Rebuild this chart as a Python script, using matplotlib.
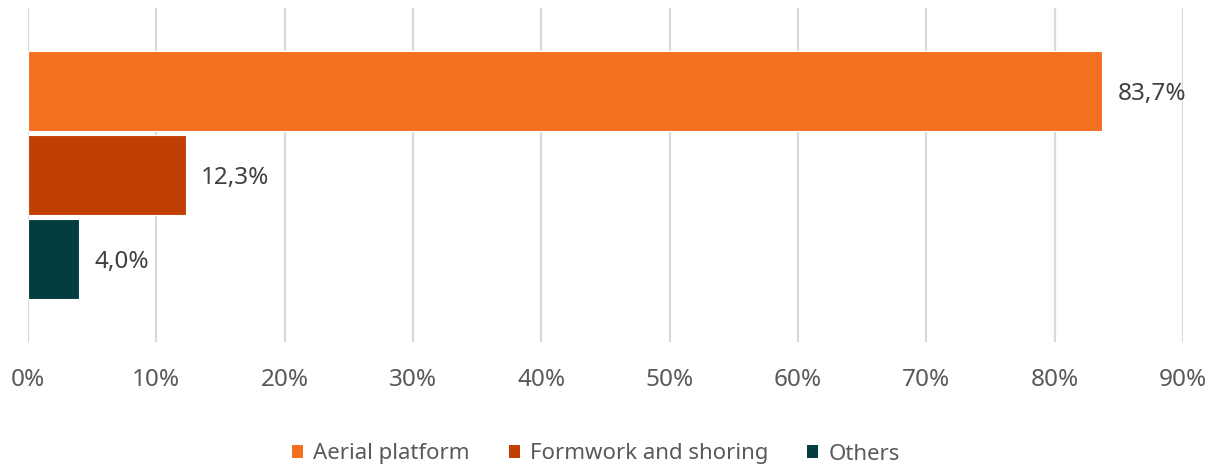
import numpy as np
import matplotlib.pyplot as plt
from matplotlib.patches import Patch
from matplotlib.ticker import FuncFormatter

plt.rcParams['font.family'] = ['Noto Sans', 'DejaVu Sans']

# data
series = ['Aerial platform', 'Formwork and shoring', 'Others']
values = [83.7, 12.3, 4.0]
colors = ['#f37021', '#c23f04', '#033d3f']
xticks = np.arange(0, 91, 10)

W, H = 1218, 468
fig = plt.figure(figsize=(W/100, H/100), dpi=100)
ax = fig.add_axes([28/W, 1-342/H, (1183-28)/W, (342-8)/H])

# y in pixel-like units of the plot area (0 at top, 334 at bottom)
ax.set_ylim(334, 0)
ax.set_xlim(0, 90)

center = 167
step = 84
bh = 80
for i, (s, v, c) in enumerate(zip(series, values, colors)):
    yc = center + (i-1)*step
    ax.barh(yc, v, height=bh, color=c, edgecolor='white', linewidth=0.8, zorder=3)
    ax.text(v + 1.2, yc + 3, ('%.1f%%' % v).replace('.', ','), va='center', ha='left',
            fontsize=17.5, color='#404040', zorder=4)

ax.set_xticks(xticks)
ax.xaxis.set_major_formatter(FuncFormatter(lambda x, p: '%d%%' % x))
ax.set_yticks([])
ax.tick_params(axis='x', length=0, pad=19, labelsize=17.5, labelcolor='#595959')
ax.grid(axis='x', color='#d9d9d9', linewidth=1.6, zorder=0)
for sp in ax.spines.values():
    sp.set_visible(False)

handles = [Patch(facecolor=c, edgecolor='none') for c in colors]
leg = fig.legend(handles, series, loc='center', bbox_to_anchor=(596/W, 1-454/H), ncol=3,
                 frameon=False, fontsize=16, handlelength=0.5, handleheight=0.5,
                 handletextpad=0.45, columnspacing=1.75, labelcolor='#595959')

fig.savefig('out.png', dpi=100)
